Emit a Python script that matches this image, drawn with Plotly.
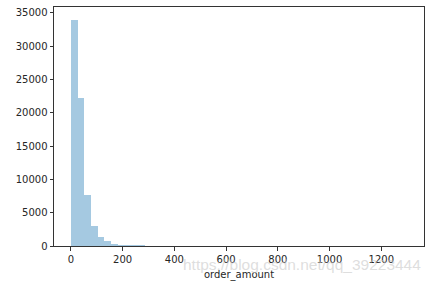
import plotly.graph_objects as go

# Histogram of order_amount (50 bins, seaborn distplot style)
bin_start = 0.0
bin_width = 26.0
counts = [33950, 22150, 7600, 2980, 1340, 700, 330, 190, 150, 140,
          120, 60, 40, 30, 22, 16, 12, 10, 8, 7,
          6, 5, 4, 4, 3, 3, 2, 2, 2, 2,
          1, 1, 1, 1, 1, 1, 1, 0, 1, 0,
          1, 0, 0, 1, 0, 0, 0, 0, 0, 1]
x_ticks = [0, 200, 400, 600, 800, 1000, 1200]
y_ticks = [0, 5000, 10000, 15000, 20000, 25000, 30000, 35000]
x_label = "order_amount"
watermark = "https://blog.csdn.net/qq_39223444"

centers = [bin_start + bin_width * (i + 0.5) for i in range(len(counts))]

fig = go.Figure()
fig.add_trace(go.Bar(
    x=centers, y=counts, width=bin_width,
    marker=dict(color="rgba(31,119,180,0.4)", line=dict(width=0)),
))

axis_common = dict(
    showline=True, linecolor="#333333", linewidth=1, mirror=True,
    ticks="outside", ticklen=3.5, tickwidth=1, tickcolor="#333333",
    showgrid=False, zeroline=False, tickformat="d",
    tickfont=dict(family="DejaVu Sans", size=10, color="#262626"),
)

fig.update_layout(
    width=433, height=285,
    margin=dict(l=54, r=9, t=6, b=38),
    plot_bgcolor="white", paper_bgcolor="white",
    showlegend=False, bargap=0,
    xaxis=dict(range=[-65, 1365], tickvals=x_ticks,
               ticktext=[str(v) for v in x_ticks],
               title=dict(text=x_label, standoff=7,
                          font=dict(family="DejaVu Sans", size=10, color="#262626")),
               **axis_common),
    yaxis=dict(range=[0, 35860], tickvals=y_ticks,
               ticktext=[str(v) for v in y_ticks], **axis_common),
)

fig.add_annotation(
    text=watermark, xref="paper", yref="paper", x=0.997, y=-0.033,
    xanchor="right", yanchor="top", showarrow=False,
    font=dict(family="Liberation Sans", size=15.5, color="rgba(200,200,200,0.6)"),
)

fig.write_html("out.html")
